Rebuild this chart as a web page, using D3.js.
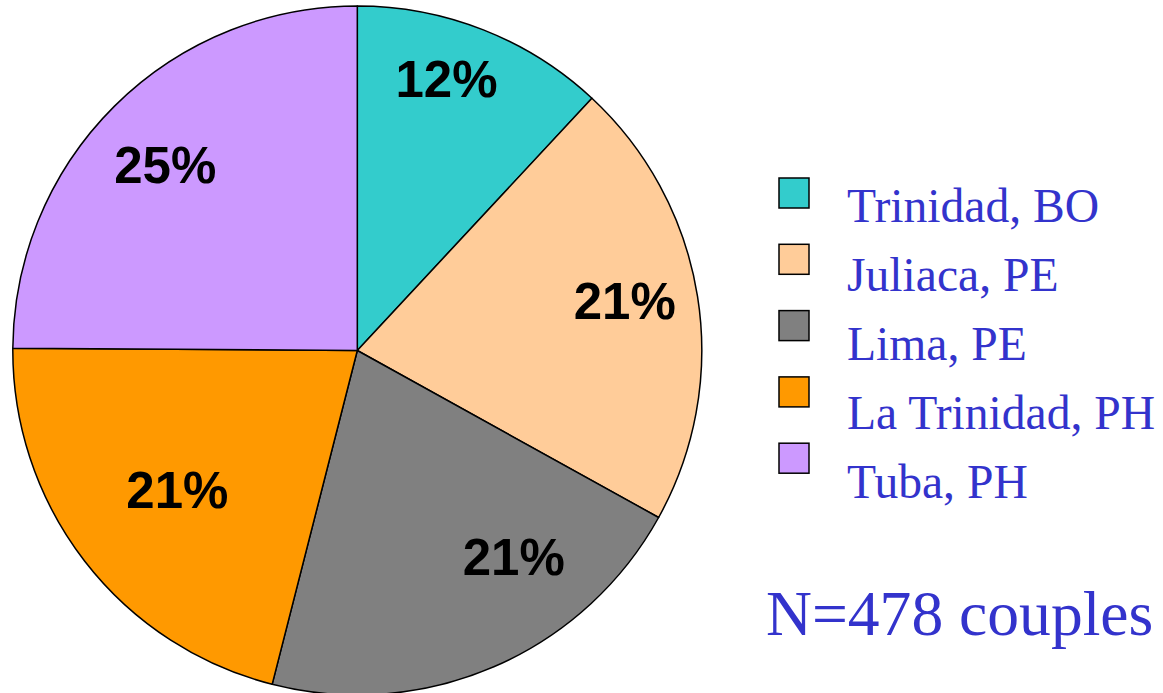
<!DOCTYPE html>
<html>
<head>
<meta charset="utf-8">
<script src="https://cdn.jsdelivr.net/npm/d3@7"></script>
<style>
    body { margin: 0; background: #fff; }
    svg { display: block; }
</style>
</head>
<body>
<div id="chart"></div>
<script>
// Data: couples per site (N = 478)
const sites = ["Trinidad, BO", "Juliaca, PE", "Lima, PE", "La Trinidad, PH", "Tuba, PH"];
const couples = [57, 101, 100, 101, 119];
const sliceColors = ["#33CCCC", "#FFCC99", "#808080", "#FF9900", "#CC99FF"];
const totalLabel = "N=478 couples";

const width = 1163, height = 693;
const cx = 357.3, cy = 350.5, radius = 344.5;

// label placement inside each slice (radius fraction, angle nudge in degrees)
const labelRadius = [0.83, 0.79, 0.75, 0.66, 0.775];
const labelNudge = [-3.3, -1.6, -13.9, 0, -1.2];

const svg = d3.select("#chart")
    .append("svg")
    .attr("width", width)
    .attr("height", height);

const total = d3.sum(couples);
const rows = sites.map((name, i) => ({ name: name, value: couples[i], color: sliceColors[i], i: i }));

const pie = d3.pie()
    .sort(null)
    .value(d => d.value);

const arc = d3.arc()
    .innerRadius(0)
    .outerRadius(radius);

const pieG = svg.append("g")
    .attr("transform", `translate(${cx}, ${cy})`);

const arcs = pie(rows);

// slices
pieG.selectAll(".slice")
    .data(arcs)
    .enter()
    .append("path")
    .attr("class", "slice")
    .attr("d", arc)
    .attr("fill", d => d.data.color)
    .attr("stroke", "#000")
    .attr("stroke-width", 1.5)
    .attr("stroke-linejoin", "round");

// percentage labels
pieG.selectAll(".pct")
    .data(arcs)
    .enter()
    .append("text")
    .attr("class", "pct")
    .attr("transform", d => {
        const a = (d.startAngle + d.endAngle) / 2 + labelNudge[d.data.i] * Math.PI / 180;
        const r = radius * labelRadius[d.data.i];
        return `translate(${r * Math.sin(a)}, ${-r * Math.cos(a)})`;
    })
    .attr("text-anchor", "middle")
    .attr("dy", "0.36em")
    .attr("font-family", "Liberation Sans, Arial, sans-serif")
    .attr("font-weight", "bold")
    .attr("font-size", 51)
    .attr("fill", "#000")
    .text(d => Math.round(d.data.value / total * 100) + "%");

// legend
const legend = svg.append("g")
    .attr("transform", "translate(779, 178)");

const swatch = d3.scaleLinear().domain([0, 1]).range([0, 66.3]);
const textRow = d3.scaleLinear().domain([0, 1]).range([44, 113]);

legend.selectAll(".swatch")
    .data(rows)
    .enter()
    .append("rect")
    .attr("class", "swatch")
    .attr("x", 0)
    .attr("y", d => swatch(d.i))
    .attr("width", 30)
    .attr("height", 30)
    .attr("fill", d => d.color)
    .attr("stroke", "#000")
    .attr("stroke-width", 1.5);

legend.selectAll(".name")
    .data(rows)
    .enter()
    .append("text")
    .attr("class", "name")
    .attr("x", 68)
    .attr("y", d => textRow(d.i))
    .attr("font-family", "Liberation Serif, Times New Roman, serif")
    .attr("font-size", 47.6)
    .attr("fill", "#3333CC")
    .text(d => d.name);

svg.append("text")
    .attr("x", 766)
    .attr("y", 635)
    .attr("font-family", "Liberation Serif, Times New Roman, serif")
    .attr("font-size", 63.6)
    .attr("fill", "#3333CC")
    .text(totalLabel);
</script>
</body>
</html>
